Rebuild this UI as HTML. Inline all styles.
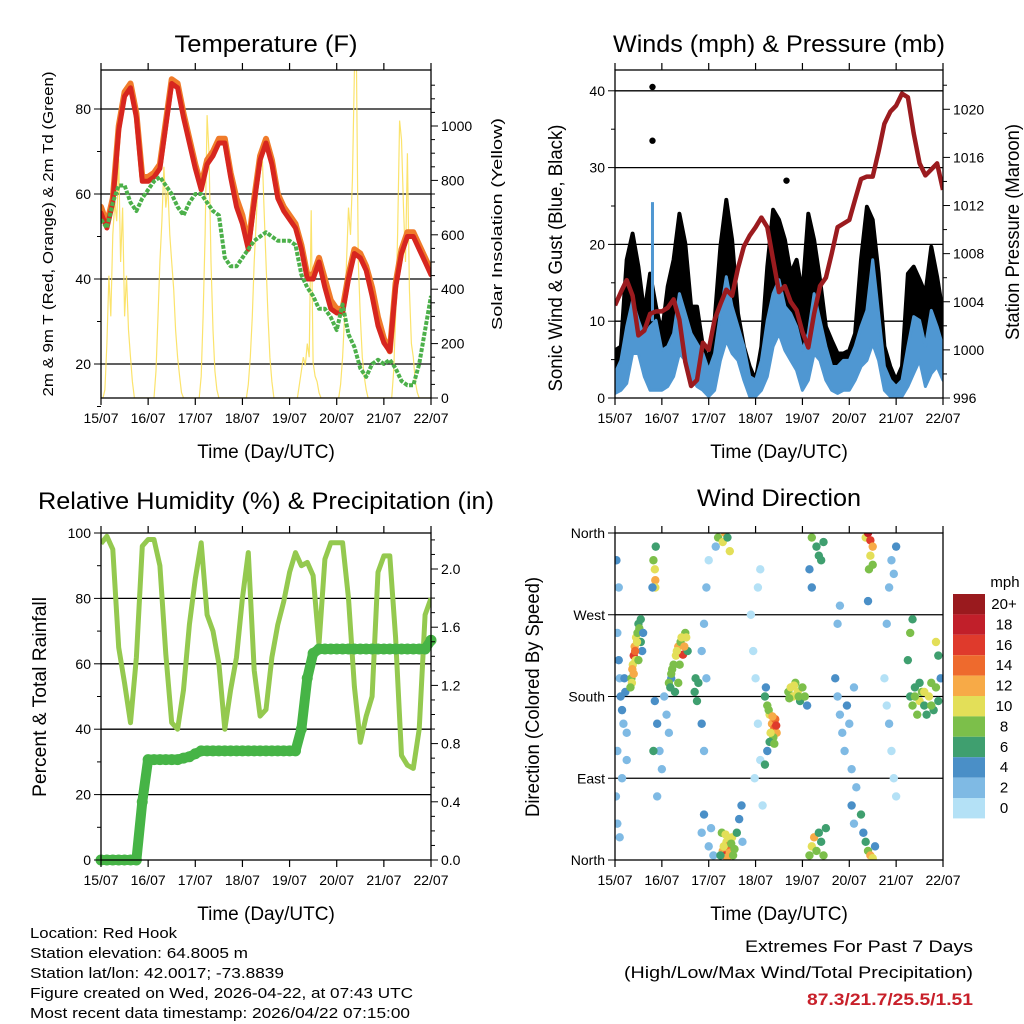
<!DOCTYPE html>
<html><head><meta charset="utf-8"><style>
html,body{margin:0;padding:0;background:#fff;}
svg{display:block;font-family:"Liberation Sans",sans-serif;}
</style></head><body>
<svg id="chart" width="1024" height="1024" viewBox="0 0 1024 1024" xmlns="http://www.w3.org/2000/svg"></svg>
<script>
// ---------- DATA (3-hourly, day 0 = 15/07 00 UTC) ----------
const dayLabels=["15/07","16/07","17/07","18/07","19/07","20/07","21/07","22/07"];
const temp2m=[55.5,52,58,75,83,85,78,63,63,64,66,76,86,85,78,72,66,61,67,69,72,72,64,57,53,47,58,68,72,67,59,56,54,52,47,40,40,44,38,33,32,32,40,46,45,42,36,29,25,23,38,46,50,50,47,44,41];
const temp9m=[57,53,59,76,84,86,79,64,64,65,67,77,87,86,79,73,67,62,68,70,73,73,65,59,55,48,59,69,73,68,60,57,55,53,48,41,41,45,40,35,33,33,41,47,46,43,38,31,26,23,39,47,51,51,48,45,42];
const dewpoint=[54,52,58,62,62,58,56,59,61,63,64,62,60,57,55,58,60,60,58,56,55,45,43,43,45,47,49,50,51,50,49,49,49,48,41,38,36,33,33,31,28,34,27,24,19,17,20,21,20,21,19,16,15,15,20,28,36];
const solarHourly=[
0,0,30,200,450,300,600,720,650,880,500,700,300,450,250,150,60,0,0,0,0,0,0,0,
0,0,0,0,100,300,500,650,850,700,780,600,500,400,250,150,80,20,0,0,0,0,0,0,
0,0,0,80,300,600,1040,900,500,250,100,30,0,0,0,0,0,0,0,0,0,0,0,0,
0,0,0,50,150,300,500,650,800,850,910,700,500,300,150,60,0,0,0,0,0,0,0,0,
0,0,0,0,0,50,100,150,120,200,150,690,130,80,60,20,0,0,0,0,0,0,0,0,
0,0,50,150,300,500,700,600,800,1200,1250,500,300,150,80,30,0,0,0,0,0,0,0,0,
0,0,0,0,0,100,300,600,1020,950,700,500,900,400,200,150,60,20,0,0,0,0,0,0,0];
const windLow=[0.6,1.0,1.9,5.8,5.8,2.8,1.0,1.0,1.0,1.5,2.8,5.8,4.9,2.8,1.5,1.0,0.2,1.0,4.9,7.5,5.8,4.9,2.3,0.2,0.2,1.0,2.8,6.7,8.4,6.2,4.9,3.6,1.0,2.3,5.8,4.9,2.3,1.0,0.6,1.0,1.0,2.3,4.1,4.9,7.1,4.9,1.0,0.2,0.2,0.2,1.5,3.2,4.9,1.5,3.2,4.1,2.3];
const windHigh=[3.2,4.9,9.3,12.7,10.1,8.0,9.3,10.1,6.2,6.7,8.4,13.6,11.0,8.4,7.1,5.8,3.6,5.8,11.0,15.8,11.9,9.3,6.7,2.8,2.3,4.9,10.1,13.6,15.4,11.9,11.0,9.3,6.2,8.4,13.6,10.1,6.7,4.1,4.1,4.9,4.9,6.7,9.3,11.4,18.0,11.0,4.1,2.3,1.5,2.3,6.7,10.6,10.1,6.7,11.4,9.3,6.7];
const gustHigh=[6.2,6.7,18.0,21.4,17.1,11.0,16.2,11.9,8.4,14.5,18.0,24.0,20.1,11.9,11.9,6.7,4.9,10.1,19.7,25.8,20.6,11.0,6.7,4.1,2.3,6.7,17.1,24.5,23.2,20.6,16.2,18.0,13.6,24.0,20.6,15.4,9.3,7.5,5.8,5.8,6.2,8.4,18.0,24.9,23.2,16.2,6.7,4.1,2.3,4.1,16.2,17.1,15.4,13.6,19.7,15.8,11.0];
const gustSpikeDay=[0.8,0.8,3.66];
const gustSpikeVal=[40.5,33.5,28.3];
const pressure=[1003.7,1004.8,1005.8,1004.5,1001.2,1001.6,1003.0,1003.2,1003.2,1003.5,1004.2,1002.5,999.0,997.0,997.5,1000.6,1000.0,1002.5,1003.8,1005.0,1004.5,1006.8,1008.6,1009.5,1010.2,1011.0,1010.2,1007.5,1004.8,1005.3,1004.0,1003.3,1001.5,1000.2,1003.0,1005.3,1006.0,1008.0,1010.2,1010.5,1010.8,1012.5,1014.2,1014.4,1014.4,1016.5,1018.8,1019.8,1020.3,1021.3,1021.0,1018.0,1015.5,1014.5,1015.0,1015.5,1013.3];
const relHum=[96.8,99,95,65,54,42,62,96,98,98,90,63,42,40,52,72,86,97,75,70,60,40,52,62,80,94,58,44,46,62,72,79,88,94,90,91,87,66,92,97,97,97,80,53,36,44,50,88,93,93,68,32,29,28,40,75,80];
const rainTotal=[0,0,0,0,0,0,0,0.40,0.69,0.69,0.69,0.69,0.69,0.69,0.70,0.71,0.73,0.75,0.75,0.75,0.75,0.75,0.75,0.75,0.75,0.75,0.75,0.75,0.75,0.75,0.75,0.75,0.75,0.75,0.90,1.25,1.42,1.45,1.45,1.45,1.45,1.45,1.45,1.45,1.45,1.45,1.45,1.45,1.45,1.45,1.45,1.45,1.45,1.45,1.45,1.45,1.51];
const wdDay=[0.05,0.08,0.1,0.12,0.15,0.18,0.05,0.2,0.22,0.25,0.02,0.05,0.1,0.03,0.08,0.15,0.25,
0.35,0.38,0.4,0.42,0.45,0.48,0.5,0.52,0.55,0.58,0.36,0.4,0.44,0.6,
0.82,0.85,0.87,0.86,0.86,0.8,
0.85,0.9,0.95,1.0,0.82,0.9,1.05,1.1,1.15,1.2,1.15,1.2,1.25,1.3,1.35,1.4,1.45,1.5,1.52,1.55,1.28,1.35,
1.7,1.75,1.78,1.72,
1.85,1.9,1.95,1.85,1.9,1.95,2.0,
1.85,1.9,2.0,2.05,2.1,2.3,2.35,2.38,2.42,2.45,2.5,2.55,2.6,2.65,2.7,2.72,2.28,2.2,2.3,2.35,2.4,2.45,2.15,
2.9,2.95,3.0,3.05,3.1,2.98,3.05,3.1,3.15,
3.2,3.25,3.3,3.35,3.4,3.42,3.45,3.38,3.3,3.22,3.25,3.2,
3.7,3.75,3.8,3.85,3.9,3.95,4.0,4.05,4.1,
4.15,4.2,4.25,4.3,4.35,4.4,4.45,4.5,4.2,4.3,4.35,4.4,4.45,4.15,4.2,
4.7,4.75,4.8,4.85,4.9,4.95,5.0,5.05,5.1,4.75,4.8,
5.05,5.1,5.15,5.25,5.3,5.35,5.4,5.45,5.5,5.55,
5.35,5.4,5.45,5.5,5.45,5.5,5.42,5.4,
5.75,5.8,5.85,5.9,5.95,6.0,5.8,5.85,5.9,6.0,5.95,
6.3,6.35,6.4,6.45,6.5,6.55,6.6,6.7,6.75,6.8,6.85,6.9,6.95,6.25,6.3,6.35,6.85,6.9,
0.37,0.43,0.47,0.5,0.33,0.55,
1.22,1.32,1.42,1.38,1.48,1.18,
2.32,2.4,2.48,2.36,2.25,2.52,
3.28,3.36,3.44,3.32,3.4,
3.72,3.82,3.92,
6.4,6.6,6.65,6.75,6.5];
const wdDir=[250,220,200,180,165,150,120,200,185,140,70,40,25,330,300,90,110,
200,215,225,235,245,250,260,255,240,230,195,205,220,250,
330,320,345,308,300,300,
175,150,120,100,120,70,180,160,140,200,195,205,215,225,235,240,226,250,245,230,185,195,
185,175,195,200,
150,120,200,230,260,300,330,
30,50,15,35,5,10,5,20,15,8,25,12,30,45,60,20,30,355,350,360,355,340,345,
270,230,200,150,110,90,300,320,60,
180,170,160,150,145,155,140,135,130,190,120,105,
185,190,180,195,185,175,190,180,170,
5,15,25,10,30,20,5,35,355,345,335,330,350,320,300,
200,180,160,140,120,170,150,100,190,260,280,
60,40,80,50,30,20,10,5,2,15,
355,360,352,345,335,325,320,285,
200,170,150,120,90,70,260,300,330,345,315,
180,170,190,160,175,185,170,180,195,165,190,175,200,220,250,265,240,225,
210,230,240,220,190,265,
210,230,245,215,235,190,
15,3,18,28,5,5,
165,158,148,140,128,
178,192,180,
180,185,160,170,195];
const wdSpd=[3,4,2,4,5,3,2,4,5,3,2,3,2,4,2,3,2,
9,11,16,12,10,8,7,9,6,4,10,12,10,5,
8,10,6,13,10,4,
4,5,3,2,7,3,3,2,2,4,8,8,9,10,12,9,16,8,10,6,7,9,
6,6,6,6,
4,3,2,2,3,2,1,
3,4,2,2,3,12,16,10,14,12,10,8,6,4,4,3,8,8,10,12,6,10,3,
1,0,1,0,1,0,1,0,1,
6,8,10,12,14,15,13,9,6,4,5,6,
9,10,11,8,10,7,9,8,4,
8,10,12,9,7,6,8,6,9,6,7,6,6,4,4,
4,3,2,3,2,4,2,3,3,2,3,
4,3,2,6,5,6,9,12,10,4,
10,18,16,12,10,8,9,4,
1,0,2,1,0,1,2,3,3,4,3,
6,8,7,9,10,8,6,10,9,7,8,6,5,6,8,7,10,6,
12,14,11,9,8,7,
9,11,10,8,12,7,
10,13,9,11,6,8,
9,13,16,11,8,
8,10,9,
9,10,7,8,7];
const speedBinLabels=["0","2","4","6","8","10","12","14","16","18","20+"];
const speedColors=["#b4e1f6","#7fbae4","#4a8fc7","#3f9f6f","#7cbf4a","#e3df58","#f7aa47","#ee6a2d","#df3a2c","#c11f2a","#9a1a1e"];
const dirTicks=[0,90,180,270,360];
const dirTickLabels=["North","East","South","West","North"];

// ---------- helpers ----------
const NS="http://www.w3.org/2000/svg";
const svg=document.getElementById('chart');
function mk(tag,attrs,parent){const e=document.createElementNS(NS,tag);for(const k in attrs)e.setAttribute(k,attrs[k]);(parent||svg).appendChild(e);return e;}
function txt(str,x,y,size,anchor,parent,extra){const t=mk('text',Object.assign({x:x,y:y,'font-size':size,'text-anchor':anchor||'start',fill:'#000'},extra||{}),parent);t.textContent=str;return t;}
const step=1/8;

function frame(g,x0,x1,y0,y1,clipId){
  const cp=mk('clipPath',{id:clipId},g);mk('rect',{x:x0,y:y0,width:x1-x0,height:y1-y0},cp);
}
function gridLine(g,x0,x1,y){const l=mk('line',{x1:x0,x2:x1,y1:y,y2:y,stroke:'#000','stroke-width':1.3},g);}
function box(g,x0,x1,y0,y1){const r=mk('rect',{x:x0,y:y0,width:x1-x0,height:y1-y0,fill:'none',stroke:'#000','stroke-width':1.3},g);}
function xAxis(g,x0,x1,y0,y1){
  for(let i=0;i<dayLabels.length;i++){const x=x0+(x1-x0)*i/7;
    mk('line',{x1:x,x2:x,y1:y1,y2:y1+7,stroke:'#000','stroke-width':1.2},g);
    mk('line',{x1:x,x2:x,y1:y0,y2:y0-7,stroke:'#000','stroke-width':1.2},g);
    const t=txt(dayLabels[i],x,y1+25,14,'middle',g);}
  const at=txt('Time (Day/UTC)',(x0+x1)/2,y1+60,19,'middle',g);
}
function yTicks(g,xEdge,dir,scale,vmin,vmax,major,minor,fmt,labelSize){
  for(let v=vmin;v<=vmax+1e-9;v+=minor){const y=scale(v);const isMaj=Math.abs(v/major-Math.round(v/major))<1e-6;
    mk('line',{x1:xEdge,x2:xEdge+dir*(isMaj?7:4),y1:y,y2:y,stroke:'#000','stroke-width':1},g);
    if(isMaj&&fmt){const t=txt(fmt(v),xEdge+dir*10,y+5,labelSize||14,dir<0?'end':'start',g);}}
}
function path(pts){return pts.map((p,i)=>(i?'L':'M')+p[0].toFixed(1)+','+p[1].toFixed(1)).join('');}
function vtitle(str,x,y,size,len,g,name){const t=txt(str,x,y,size,'middle',g,{transform:'rotate(-90 '+x+' '+y+')',textLength:len,lengthAdjust:'spacingAndGlyphs'});}
function title(str,x,y,len,g,name){const t=txt(str,x,y,24,'middle',g,{textLength:len,lengthAdjust:'spacingAndGlyphs'});}

// ---------- PANEL 1: temperature ----------
(function(){
  const g=mk('g',{});
  const x0=101,x1=431,y0=70,y1=398;
  const xs=d=>x0+d*(x1-x0)/7;
  const ys=v=>364-(v-20)*4.25;
  const ss=v=>398-v*0.272;
  frame(g,x0,x1,y0,y1,'c1');
  [20,40,60,80].forEach(v=>gridLine(g,x0,x1,ys(v)));
  const pg=mk('g',{'clip-path':'url(#c1)'},g);
  const sp=mk('path',{d:path(solarHourly.map((v,i)=>[xs(i/24),ss(v)])),fill:'none',stroke:'#fbe05c','stroke-width':1.2,opacity:0.9},pg);
  
  const o=mk('path',{d:path(temp9m.map((v,i)=>[xs(i*step),ys(v)])),fill:'none',stroke:'#f07b2a','stroke-width':6,'stroke-linejoin':'round','stroke-linecap':'round'},pg);
  
  const r=mk('path',{d:path(temp2m.map((v,i)=>[xs(i*step),ys(v)])),fill:'none',stroke:'#d7261f','stroke-width':5,'stroke-linejoin':'round','stroke-linecap':'round'},pg);
  
  const gr=mk('path',{d:path(dewpoint.map((v,i)=>[xs(i*step),ys(v)])),fill:'none',stroke:'#4cb04a','stroke-width':4,'stroke-linejoin':'round','stroke-dasharray':'4 1.5'},pg);
  
  box(g,x0,x1,y0,y1);
  xAxis(g,x0,x1,y0,y1);
  yTicks(g,x0,-1,ys,20,80,20,10,v=>String(v));
  mk('line',{x1:x0,x2:x0-4,y1:ys(10)+0,y2:ys(10),stroke:'#000'},g);
  yTicks(g,x1,1,ss,0,1150,200,50,v=>String(v));
  title('Temperature (F)',266,52,183,g,'temperature-title');
  vtitle('2m & 9m T (Red, Orange) & 2m Td (Green)',53,234,15,325,g,'temperature-y-axis-title');
  vtitle('Solar Insolation (Yellow)',502,224,15,212,g,'solar-y-axis-title');
})();

// ---------- PANEL 2: winds & pressure ----------
(function(){
  const g=mk('g',{});
  const x0=615,x1=943,y0=70,y1=398;
  const xs=d=>x0+d*(x1-x0)/7;
  const ys=v=>398-v*7.68;
  const ps=p=>398-(p-996)*12.03;
  frame(g,x0,x1,y0,y1,'c2');
  [10,20,30,40].forEach(v=>gridLine(g,x0,x1,ys(v)));
  const pg=mk('g',{'clip-path':'url(#c2)'},g);
  const upper=gustHigh.map((v,i)=>[xs(i*step),ys(v)]);
  const mid=windHigh.map((v,i)=>[xs(i*step),ys(v)]).reverse();
  const gb=mk('path',{d:path(upper.concat(mid))+'Z',fill:'#000',stroke:'#000','stroke-width':4,'stroke-linejoin':'round'},pg);
  
  const lower=windLow.map((v,i)=>[xs(i*step),ys(v)]).reverse();
  const wb=mk('path',{d:path(windHigh.map((v,i)=>[xs(i*step),ys(v)]).concat(lower))+'Z',fill:'#4f97d2',stroke:'#4f97d2','stroke-width':3,'stroke-linejoin':'round'},pg);
  
  const bs=mk('line',{x1:xs(gustSpikeDay[0]),x2:xs(gustSpikeDay[0]),y1:ys(10),y2:ys(25.5),stroke:'#4f97d2','stroke-width':3},pg);
  
  gustSpikeDay.forEach((d,i)=>{const c=mk('circle',{cx:xs(d),cy:ys(gustSpikeVal[i]),r:3.2,fill:'#000'},pg);});
  const pl=mk('path',{d:path(pressure.map((v,i)=>[xs(i*step),ps(v)])),fill:'none',stroke:'#9b1b1f','stroke-width':4.5,'stroke-linejoin':'round'},pg);
  
  box(g,x0,x1,y0,y1);
  xAxis(g,x0,x1,y0,y1);
  yTicks(g,x0,-1,ys,0,40,10,5,v=>String(v));
  yTicks(g,x1,1,ps,996,1022,4,2,v=>String(v));
  title('Winds (mph) & Pressure (mb)',779,52,332,g,'winds-title');
  vtitle('Sonic Wind & Gust (Blue, Black)',562,258,19,267,g,'wind-y-axis-title');
  vtitle('Station Pressure (Maroon)',1019,232,19,216,g,'pressure-y-axis-title');
})();

// ---------- PANEL 3: RH & precipitation ----------
(function(){
  const g=mk('g',{});
  const x0=101,x1=431,y0=533,y1=860;
  const xs=d=>x0+d*(x1-x0)/7;
  const ys=v=>860-v*3.27;
  const rs=v=>860-v*145.5;
  frame(g,x0,x1,y0,y1,'c3');
  [20,40,60,80].forEach(v=>gridLine(g,x0,x1,ys(v)));
  const pg=mk('g',{'clip-path':'url(#c3)'},g);
  const rh=mk('path',{d:path(relHum.map((v,i)=>[xs(i*step),ys(v)])),fill:'none',stroke:'#94c94f','stroke-width':5,'stroke-linejoin':'round'},pg);
  
  const rl=mk('path',{d:path(rainTotal.map((v,i)=>[xs(i*step),rs(v)])),fill:'none',stroke:'#46b446','stroke-width':10,'stroke-linejoin':'round','stroke-linecap':'round'},g);
  
  rainTotal.forEach((v,i)=>{const c=mk('circle',{cx:xs(i*step),cy:rs(v),r:5.5,fill:'#46b446'},g);});
  box(g,x0,x1,y0,y1);
  xAxis(g,x0,x1,y0,y1);
  yTicks(g,x0,-1,ys,0,100,20,10,v=>String(v));
  yTicks(g,x1,1,rs,0,2.2,0.4,0.1,v=>v.toFixed(1));
  title('Relative Humidity (%) & Precipitation (in)',266,509,456,g,'humidity-title');
  vtitle('Percent & Total Rainfall',46,697,19,200,g,'humidity-y-axis-title');
})();

// ---------- PANEL 4: wind direction ----------
(function(){
  const g=mk('g',{});
  const x0=615,x1=943,y0=533,y1=860;
  const xs=d=>x0+d*(x1-x0)/7;
  const ys=v=>860-v*(y1-y0)/360;
  frame(g,x0,x1,y0,y1,'c4');
  [90,180,270].forEach(v=>gridLine(g,x0,x1,ys(v)));
  const pg=mk('g',{'clip-path':'url(#c4)'},g);
  wdDay.forEach((d,i)=>{const bin=Math.max(0,Math.min(10,Math.floor(wdSpd[i]/2)));
    const c=mk('circle',{cx:xs(d),cy:ys(wdDir[i]),r:4.2,fill:speedColors[bin]},pg);
    });
  box(g,x0,x1,y0,y1);
  xAxis(g,x0,x1,y0,y1);
  dirTicks.forEach((v,i)=>{const y=ys(v);mk('line',{x1:x0,x2:x0-7,y1:y,y2:y,stroke:'#000'},g);
    const t=txt(dirTickLabels[i],x0-10,y+5,14,'end',g);});
  title('Wind Direction',779,506,164,g,'wind-direction-title');
  vtitle('Direction (Colored By Speed)',539,697,19,240,g,'direction-y-axis-title');
  // legend
  const lg=mk('g',{},g);
  const lx=953,ltop=594,lh=20.4;
  for(let k=0;k<speedColors.length;k++){const idx=speedColors.length-1-k;
    const r=mk('rect',{x:lx,y:ltop+k*lh,width:32,height:lh,fill:speedColors[idx]},lg);
    const t=txt(speedBinLabels[idx],1004,ltop+k*lh+15,15,'middle',lg);}
  const u=txt('mph',1005,587,15,'middle',lg);
})();

// ---------- footer text ----------
(function(){
  const g=mk('g',{});
  const lines=["Location: Red Hook","Station elevation: 64.8005 m","Station lat/lon: 42.0017; -73.8839","Figure created on Wed, 2026-04-22, at 07:43 UTC","Most recent data timestamp: 2026/04/22 07:15:00"];
  const lens=[147,218,254,383,380];
  const ys=[938,958,978,998,1018];
  lines.forEach((s,i)=>{const t=txt(s,30,ys[i],15,'start',g,{textLength:lens[i],lengthAdjust:'spacingAndGlyphs'});});
  const e=mk('g',{});
  const a=txt('Extremes For Past 7 Days',973,952,17,'end',e,{textLength:228,lengthAdjust:'spacingAndGlyphs'});
  const b=txt('(High/Low/Max Wind/Total Precipitation)',973,978,17,'end',e,{textLength:349,lengthAdjust:'spacingAndGlyphs'});
  const c=txt('87.3/21.7/25.5/1.51',973,1005,17,'end',e,{fill:'#c8202a','font-weight':'bold',textLength:166,lengthAdjust:'spacingAndGlyphs'});
})();
</script>
</body></html>
